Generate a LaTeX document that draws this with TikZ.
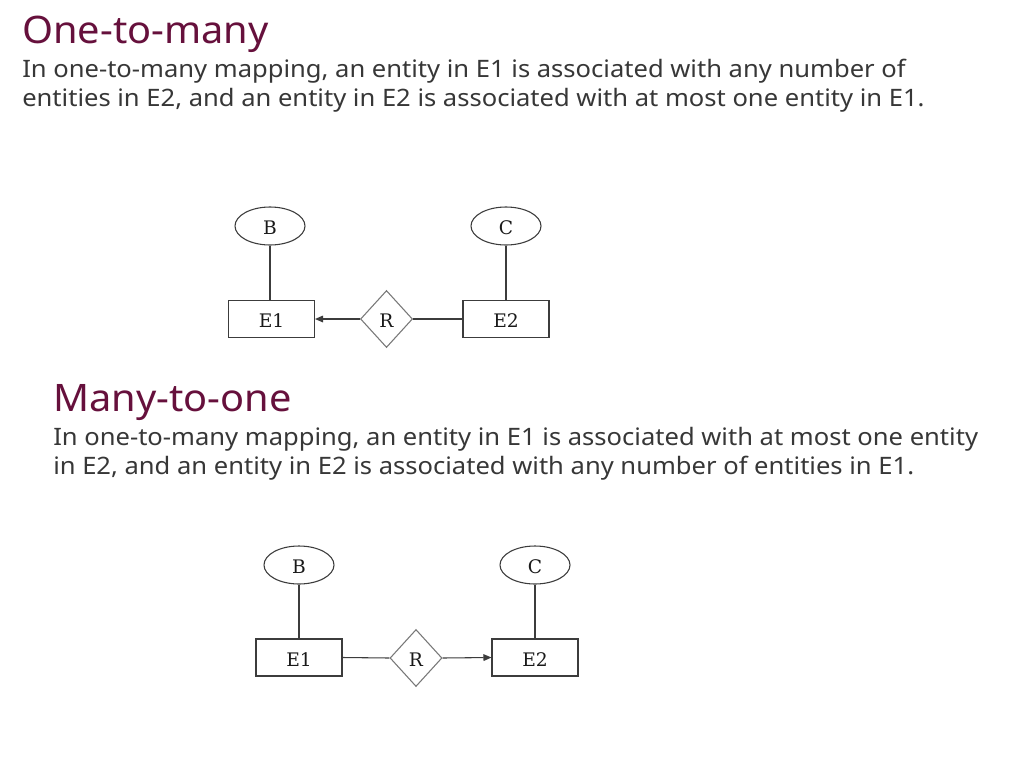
\documentclass[tikz,border=0pt]{standalone}
\usepackage{fontspec}
\setmainfont{Noto Sans}
\newfontfamily\titlefont[FakeStretch=1.05]{Noto Sans}
\newfontfamily\bodyfont[FakeStretch=1.065]{Noto Sans}
\newfontfamily\erfont{DejaVu Serif}
\usetikzlibrary{shapes.geometric,arrows.meta}
\definecolor{titlecol}{RGB}{102,16,60}
\definecolor{bodycol}{RGB}{55,55,55}
\definecolor{linecol}{RGB}{60,60,60}
\definecolor{diacol}{RGB}{120,120,120}
\tikzset{
  titletext/.style={anchor=base west,inner sep=0pt,text=titlecol,font=\titlefont\fontsize{28.4pt}{34pt}\selectfont},
  bodytext/.style={anchor=base west,inner sep=0pt,text=bodycol,font=\bodyfont\fontsize{18pt}{22pt}\selectfont},
  lbl/.style={font=\erfont\fontsize{14pt}{16pt}\selectfont,text=black!90,text height=13pt,text depth=0pt},
  attr/.style={ellipse,draw=linecol,line width=0.8pt,minimum width=52.5pt,minimum height=28.5pt,inner sep=0pt,lbl},
  entity/.style={rectangle,draw=linecol,line width=0.8pt,minimum width=64.5pt,minimum height=27.75pt,inner sep=0pt,lbl},
  rel/.style={diamond,draw=diacol,line width=0.8pt,minimum width=39pt,minimum height=42.75pt,inner sep=0pt,lbl},
  conn/.style={draw=linecol,line width=0.8pt},
  tip/.style={-{Triangle[length=6pt,width=5pt]}}
}
\begin{document}
\begin{tikzpicture}[x=0.75pt,y=-0.75pt]
\useasboundingbox[fill=white] (0,0) rectangle (1024,768);
% Section 1
\node[titletext] (t1) at (22,43) {One-to-many};
\node[bodytext] (b1a) at (22,77) {In one-to-many mapping, an entity in E1 is associated with any number of};
\node[bodytext] (b1b) at (22,106) {entities in E2, and an entity in E2 is associated with at most one entity in E1.};
\node[attr] (B1) at (270,226) {B};
\node[attr] (C1) at (506,226) {C};
\node[entity] (E11) at (271.5,319) {E1};
\node[entity] (E21) at (506,319) {E2};
\node[rel] (R1) at (386.5,319) {R};
\draw[conn] (B1) -- (B1 |- E11.north);
\draw[conn] (C1) -- (C1 |- E21.north);
\draw[conn,tip] (R1.west) -- (E11.east);
\draw[conn] (R1.east) -- (E21.west);
% Section 2
\node[titletext] (t2) at (53,411) {Many-to-one};
\node[bodytext] (b2a) at (53,445) {In one-to-many mapping, an entity in E1 is associated with at most one entity};
\node[bodytext] (b2b) at (53,474) {in E2, and an entity in E2 is associated with any number of entities in E1.};
\node[attr] (B2) at (299,565) {B};
\node[attr] (C2) at (535,565) {C};
\node[entity] (E12) at (299,657.5) {E1};
\node[entity] (E22) at (535,657.5) {E2};
\node[rel] (R2) at (416,658) {R};
\draw[conn] (B2) -- (B2 |- E12.north);
\draw[conn] (C2) -- (C2 |- E22.north);
\draw[conn] (E12.east) -- (R2.west);
\draw[conn,tip] (R2.east) -- (E22.west);
\end{tikzpicture}
\end{document}
